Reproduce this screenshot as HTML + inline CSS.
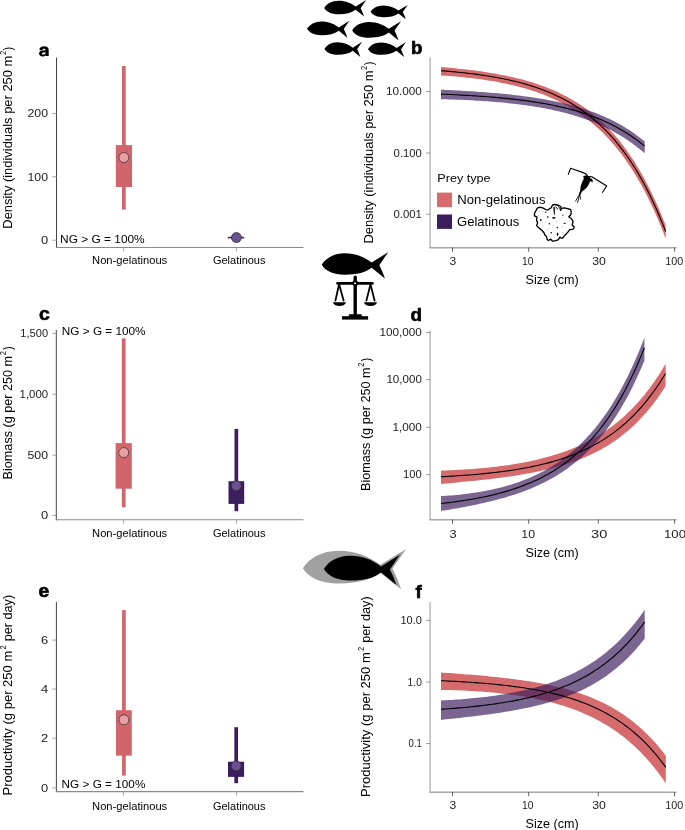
<!DOCTYPE html><html><head><meta charset="utf-8"><style>html,body{margin:0;padding:0;background:#fff;}svg{display:block;will-change:transform;}</style></head><body>
<svg width="685" height="830" viewBox="0 0 685 830" font-family='"Liberation Sans", sans-serif'>
<rect width="685" height="830" fill="#fff"/>
<path transform="translate(324.20,0.00) scale(0.8607,0.8601)" d="M0,9.2 C3,4.2 9,0.9 16.5,0.8 C24.5,0.7 31.5,3.6 36.6,7.6 L48.8,0 C46.6,3.2 44.2,6.6 42.3,9.5 C43.9,12.6 45.2,15.6 46.4,19.3 L36.6,11.4 C31.5,15.3 24.5,16.6 16.5,16.5 C9,16.4 3,14.2 0,9.2 Z" fill="#000"/>
<path transform="translate(370.60,4.90) scale(0.7602,0.7461)" d="M0,9.2 C3,4.2 9,0.9 16.5,0.8 C24.5,0.7 31.5,3.6 36.6,7.6 L48.8,0 C46.6,3.2 44.2,6.6 42.3,9.5 C43.9,12.6 45.2,15.6 46.4,19.3 L36.6,11.4 C31.5,15.3 24.5,16.6 16.5,16.5 C9,16.4 3,14.2 0,9.2 Z" fill="#000"/>
<path transform="translate(307.00,20.70) scale(0.8689,0.8808)" d="M0,9.2 C3,4.2 9,0.9 16.5,0.8 C24.5,0.7 31.5,3.6 36.6,7.6 L48.8,0 C46.6,3.2 44.2,6.6 42.3,9.5 C43.9,12.6 45.2,15.6 46.4,19.3 L36.6,11.4 C31.5,15.3 24.5,16.6 16.5,16.5 C9,16.4 3,14.2 0,9.2 Z" fill="#000"/>
<path transform="translate(352.20,21.20) scale(1.0000,1.0000)" d="M0,9.2 C3,4.2 9,0.9 16.5,0.8 C24.5,0.7 31.5,3.6 36.6,7.6 L48.8,0 C46.6,3.2 44.2,6.6 42.3,9.5 C43.9,12.6 45.2,15.6 46.4,19.3 L36.6,11.4 C31.5,15.3 24.5,16.6 16.5,16.5 C9,16.4 3,14.2 0,9.2 Z" fill="#000"/>
<path transform="translate(324.50,41.70) scale(0.7725,0.7876)" d="M0,9.2 C3,4.2 9,0.9 16.5,0.8 C24.5,0.7 31.5,3.6 36.6,7.6 L48.8,0 C46.6,3.2 44.2,6.6 42.3,9.5 C43.9,12.6 45.2,15.6 46.4,19.3 L36.6,11.4 C31.5,15.3 24.5,16.6 16.5,16.5 C9,16.4 3,14.2 0,9.2 Z" fill="#000"/>
<path transform="translate(368.00,42.00) scale(0.7787,0.7772)" d="M0,9.2 C3,4.2 9,0.9 16.5,0.8 C24.5,0.7 31.5,3.6 36.6,7.6 L48.8,0 C46.6,3.2 44.2,6.6 42.3,9.5 C43.9,12.6 45.2,15.6 46.4,19.3 L36.6,11.4 C31.5,15.3 24.5,16.6 16.5,16.5 C9,16.4 3,14.2 0,9.2 Z" fill="#000"/>
<path fill="#000" fill-rule="evenodd" d="M39.6,50.2 L39.6,48.6 C40.6,47 42.4,46.3 44.3,46.3 C47.1,46.3 48.7,47.7 48.7,50.3 L48.7,56.1 L45.8,56.1 L45.7,55.2 C45,56 43.8,56.45 42.5,56.45 C40.4,56.45 39.05,55.2 39.05,53.5 C39.05,51.5 40.8,50.8 42.9,50.6 L45.6,50.3 C45.6,49.3 45,48.7 44.1,48.7 C43.1,48.7 42.5,49.3 42.4,50.2 Z M45.6,52.3 L43.5,52.6 C42.6,52.7 42.1,53.1 42.1,53.7 C42.1,54.3 42.6,54.6 43.3,54.6 C44.7,54.6 45.6,53.7 45.6,52.5 Z"/>
<line x1="56.50" y1="57.60" x2="56.50" y2="248.00" stroke="#454545" stroke-width="1.0"/>
<line x1="56.00" y1="247.50" x2="303.50" y2="247.50" stroke="#8a8a8a" stroke-width="1.1"/>
<line x1="52.40" y1="113.50" x2="56.50" y2="113.50" stroke="#9a9a9a" stroke-width="0.9"/>
<text x="48.10" y="117.20" font-size="10.5" text-anchor="end" fill="#222222" font-weight="normal" textLength="20.60" lengthAdjust="spacingAndGlyphs">200</text>
<line x1="52.40" y1="176.80" x2="56.50" y2="176.80" stroke="#9a9a9a" stroke-width="0.9"/>
<text x="48.10" y="180.50" font-size="10.5" text-anchor="end" fill="#222222" font-weight="normal" textLength="20.60" lengthAdjust="spacingAndGlyphs">100</text>
<line x1="52.40" y1="240.20" x2="56.50" y2="240.20" stroke="#9a9a9a" stroke-width="0.9"/>
<text x="48.10" y="243.90" font-size="10.5" text-anchor="end" fill="#222222" font-weight="normal" textLength="7.20" lengthAdjust="spacingAndGlyphs">0</text>
<line x1="123.60" y1="247.50" x2="123.60" y2="251.50" stroke="#a0a0a0" stroke-width="0.9"/>
<line x1="236.40" y1="247.50" x2="236.40" y2="251.50" stroke="#a0a0a0" stroke-width="0.9"/>
<rect x="122.00" y="66.00" width="3.70" height="143.60" fill="#d0666b"/>
<rect x="115.80" y="145.10" width="16.20" height="41.90" fill="#d0666b"/>
<circle cx="123.85" cy="157.50" r="5.0" fill="#e9a0a3" stroke="#2b2b2b" stroke-width="0.7"/>
<rect x="227.80" y="236.80" width="16.40" height="1.60" fill="#3c1e5e"/>
<circle cx="236.4" cy="237.6" r="5" fill="#6c4f91" stroke="#2b2b2b" stroke-width="0.7"/>
<text x="60.10" y="242.80" font-size="11.7" text-anchor="start" fill="#000000" font-weight="normal" textLength="84.60" lengthAdjust="spacingAndGlyphs">NG &gt; G = 100%</text>
<text x="92.10" y="263.60" font-size="10.6" text-anchor="start" fill="#000000" font-weight="normal" textLength="75.10" lengthAdjust="spacingAndGlyphs">Non-gelatinous</text>
<text x="212.90" y="263.60" font-size="10.6" text-anchor="start" fill="#000000" font-weight="normal" textLength="52.60" lengthAdjust="spacingAndGlyphs">Gelatinous</text>
<g transform="translate(11.90,228.70) rotate(-90)">
<text x="0.00" y="0.00" font-size="12.2" fill="#000000" textLength="173.00" lengthAdjust="spacingAndGlyphs">Density (individuals per 250 m</text>
<text x="173.60" y="-5.60" font-size="9.0" fill="#000000" textLength="4.20" lengthAdjust="spacingAndGlyphs">2</text>
<text x="178.30" y="0.00" font-size="12.2" fill="#000000" textLength="3.80" lengthAdjust="spacingAndGlyphs">)</text>
</g>
<text x="410.90" y="53.80" font-size="18" font-weight="bold" fill="#000" stroke="#000" stroke-width="0.65" textLength="11.40" lengthAdjust="spacingAndGlyphs">b</text>
<line x1="430.10" y1="57.50" x2="430.10" y2="247.90" stroke="#a8a8a8" stroke-width="1.2"/>
<line x1="429.50" y1="247.70" x2="676.50" y2="247.70" stroke="#a8a8a8" stroke-width="1.4"/>
<line x1="426.20" y1="91.50" x2="430.10" y2="91.50" stroke="#8a8a8a" stroke-width="0.9"/>
<text x="421.90" y="95.20" font-size="10.5" text-anchor="end" fill="#222222" font-weight="normal" textLength="36.00" lengthAdjust="spacingAndGlyphs">10.000</text>
<line x1="426.20" y1="153.00" x2="430.10" y2="153.00" stroke="#8a8a8a" stroke-width="0.9"/>
<text x="421.90" y="156.70" font-size="10.5" text-anchor="end" fill="#222222" font-weight="normal" textLength="28.30" lengthAdjust="spacingAndGlyphs">0.100</text>
<line x1="426.20" y1="214.30" x2="430.10" y2="214.30" stroke="#8a8a8a" stroke-width="0.9"/>
<text x="421.90" y="218.00" font-size="10.5" text-anchor="end" fill="#222222" font-weight="normal" textLength="28.50" lengthAdjust="spacingAndGlyphs">0.001</text>
<line x1="452.50" y1="247.40" x2="452.50" y2="251.60" stroke="#505050" stroke-width="0.9"/>
<line x1="528.70" y1="247.40" x2="528.70" y2="251.60" stroke="#505050" stroke-width="0.9"/>
<line x1="598.30" y1="247.40" x2="598.30" y2="251.60" stroke="#505050" stroke-width="0.9"/>
<line x1="674.60" y1="247.40" x2="674.60" y2="251.60" stroke="#505050" stroke-width="0.9"/>
<text x="452.85" y="264.80" font-size="10.5" text-anchor="middle" fill="#222222" font-weight="normal" textLength="6.74" lengthAdjust="spacingAndGlyphs">3</text>
<text x="527.80" y="264.80" font-size="10.5" text-anchor="middle" fill="#222222" font-weight="normal" textLength="11.44" lengthAdjust="spacingAndGlyphs">10</text>
<text x="599.00" y="264.80" font-size="10.5" text-anchor="middle" fill="#222222" font-weight="normal" textLength="13.64" lengthAdjust="spacingAndGlyphs">30</text>
<text x="674.25" y="264.80" font-size="10.5" text-anchor="middle" fill="#222222" font-weight="normal" textLength="17.94" lengthAdjust="spacingAndGlyphs">100</text>
<text x="552.10" y="284.00" font-size="12.3" text-anchor="middle" fill="#000000" font-weight="normal" textLength="53.00" lengthAdjust="spacingAndGlyphs">Size (cm)</text>
<path d="M441.00,67.08 L443.84,67.31 L446.69,67.56 L449.53,67.81 L452.38,68.07 L455.22,68.35 L458.07,68.63 L460.91,68.93 L463.75,69.24 L466.60,69.56 L469.44,69.89 L472.29,70.24 L475.13,70.60 L477.98,70.98 L480.82,71.37 L483.66,71.79 L486.51,72.21 L489.35,72.66 L492.20,73.13 L495.04,73.62 L497.89,74.13 L500.73,74.66 L503.57,75.21 L506.42,75.79 L509.26,76.40 L512.11,77.03 L514.95,77.69 L517.80,78.38 L520.64,79.11 L523.48,79.86 L526.33,80.65 L529.17,81.48 L532.02,82.34 L534.86,83.24 L537.71,84.18 L540.55,85.17 L543.39,86.20 L546.24,87.28 L549.08,88.41 L551.93,89.59 L554.77,90.82 L557.62,92.12 L560.46,93.47 L563.31,94.88 L566.15,96.36 L568.99,97.90 L571.84,99.52 L574.68,101.21 L577.53,102.98 L580.37,104.84 L583.22,106.77 L586.06,108.80 L588.90,110.92 L591.75,113.14 L594.59,115.46 L597.44,117.89 L600.28,120.43 L603.13,123.09 L605.97,125.88 L608.81,128.79 L611.66,131.83 L614.50,135.02 L617.35,138.35 L620.19,141.84 L623.04,145.49 L625.88,149.31 L628.72,153.30 L631.57,157.48 L634.41,161.85 L637.26,166.43 L640.10,171.21 L642.95,176.22 L645.79,181.46 L648.63,186.94 L651.48,192.68 L654.32,198.67 L657.17,204.95 L660.01,211.52 L662.86,218.39 L665.70,225.57 L665.70,238.57 L662.86,231.22 L660.01,224.19 L657.17,217.47 L654.32,211.04 L651.48,204.89 L648.63,199.00 L645.79,193.37 L642.95,187.99 L640.10,182.84 L637.26,177.92 L634.41,173.21 L631.57,168.70 L628.72,164.39 L625.88,160.27 L623.04,156.32 L620.19,152.55 L617.35,148.94 L614.50,145.49 L611.66,142.19 L608.81,139.03 L605.97,136.01 L603.13,133.12 L600.28,130.36 L597.44,127.72 L594.59,125.19 L591.75,122.77 L588.90,120.46 L586.06,118.25 L583.22,116.13 L580.37,114.11 L577.53,112.18 L574.68,110.33 L571.84,108.56 L568.99,106.86 L566.15,105.25 L563.31,103.70 L560.46,102.22 L557.62,100.81 L554.77,99.45 L551.93,98.16 L549.08,96.92 L546.24,95.74 L543.39,94.61 L540.55,93.54 L537.71,92.50 L534.86,91.52 L532.02,90.58 L529.17,89.68 L526.33,88.82 L523.48,88.00 L520.64,87.21 L517.80,86.47 L514.95,85.75 L512.11,85.07 L509.26,84.42 L506.42,83.80 L503.57,83.21 L500.73,82.64 L497.89,82.10 L495.04,81.59 L492.20,81.10 L489.35,80.63 L486.51,80.19 L483.66,79.77 L480.82,79.36 L477.98,78.98 L475.13,78.62 L472.29,78.27 L469.44,77.94 L466.60,77.63 L463.75,77.34 L460.91,77.06 L458.07,76.79 L455.22,76.54 L452.38,76.30 L449.53,76.08 L446.69,75.87 L443.84,75.67 L441.00,75.48 Z" fill="#d66b6e"/>
<path d="M441.00,89.70 L443.58,89.82 L446.16,89.94 L448.74,90.06 L451.31,90.19 L453.89,90.32 L456.47,90.45 L459.05,90.59 L461.63,90.74 L464.21,90.89 L466.78,91.04 L469.36,91.20 L471.94,91.36 L474.52,91.53 L477.10,91.70 L479.68,91.88 L482.26,92.07 L484.83,92.26 L487.41,92.46 L489.99,92.67 L492.57,92.88 L495.15,93.10 L497.73,93.33 L500.31,93.57 L502.88,93.81 L505.46,94.07 L508.04,94.33 L510.62,94.61 L513.20,94.89 L515.78,95.18 L518.35,95.49 L520.93,95.81 L523.51,96.14 L526.09,96.48 L528.67,96.83 L531.25,97.20 L533.83,97.59 L536.40,97.98 L538.98,98.40 L541.56,98.82 L544.14,99.27 L546.72,99.73 L549.30,100.22 L551.87,100.72 L554.45,101.24 L557.03,101.78 L559.61,102.34 L562.19,102.93 L564.77,103.53 L567.35,104.17 L569.92,104.82 L572.50,105.51 L575.08,106.22 L577.66,106.96 L580.24,107.73 L582.82,108.53 L585.39,109.37 L587.97,110.24 L590.55,111.14 L593.13,112.08 L595.71,113.06 L598.29,114.08 L600.87,115.14 L603.44,116.24 L606.02,117.39 L608.60,118.58 L611.18,119.83 L613.76,121.12 L616.34,122.47 L618.92,123.87 L621.49,125.33 L624.07,126.85 L626.65,128.44 L629.23,130.08 L631.81,131.80 L634.39,133.59 L636.96,135.45 L639.54,137.38 L642.12,139.40 L644.70,141.50 L644.70,153.30 L642.12,151.09 L639.54,148.96 L636.96,146.92 L634.39,144.95 L631.81,143.06 L629.23,141.25 L626.65,139.50 L624.07,137.82 L621.49,136.20 L618.92,134.65 L616.34,133.16 L613.76,131.72 L611.18,130.34 L608.60,129.01 L606.02,127.73 L603.44,126.51 L600.87,125.33 L598.29,124.19 L595.71,123.10 L593.13,122.05 L590.55,121.04 L587.97,120.07 L585.39,119.14 L582.82,118.24 L580.24,117.38 L577.66,116.55 L575.08,115.75 L572.50,114.98 L569.92,114.25 L567.35,113.54 L564.77,112.86 L562.19,112.20 L559.61,111.57 L557.03,110.97 L554.45,110.39 L551.87,109.83 L549.30,109.30 L546.72,108.78 L544.14,108.29 L541.56,107.81 L538.98,107.35 L536.40,106.92 L533.83,106.50 L531.25,106.09 L528.67,105.71 L526.09,105.33 L523.51,104.98 L520.93,104.64 L518.35,104.31 L515.78,104.00 L513.20,103.70 L510.62,103.41 L508.04,103.13 L505.46,102.87 L502.88,102.62 L500.31,102.37 L497.73,102.14 L495.15,101.92 L492.57,101.71 L489.99,101.51 L487.41,101.32 L484.83,101.14 L482.26,100.97 L479.68,100.80 L477.10,100.65 L474.52,100.50 L471.94,100.36 L469.36,100.23 L466.78,100.10 L464.21,99.98 L461.63,99.87 L459.05,99.76 L456.47,99.67 L453.89,99.57 L451.31,99.49 L448.74,99.41 L446.16,99.33 L443.58,99.26 L441.00,99.20 Z" fill="rgba(59,30,91,0.68)"/>
<path d="M441.00,70.68 L443.84,70.90 L446.69,71.14 L449.53,71.38 L452.38,71.64 L455.22,71.90 L458.07,72.18 L460.91,72.48 L463.75,72.78 L466.60,73.10 L469.44,73.43 L472.29,73.78 L475.13,74.14 L477.98,74.52 L480.82,74.92 L483.66,75.34 L486.51,75.77 L489.35,76.23 L492.20,76.70 L495.04,77.20 L497.89,77.72 L500.73,78.26 L503.57,78.83 L506.42,79.42 L509.26,80.04 L512.11,80.69 L514.95,81.36 L517.80,82.07 L520.64,82.81 L523.48,83.59 L526.33,84.40 L529.17,85.25 L532.02,86.13 L534.86,87.06 L537.71,88.03 L540.55,89.04 L543.39,90.10 L546.24,91.21 L549.08,92.36 L551.93,93.57 L554.77,94.84 L557.62,96.16 L560.46,97.55 L563.31,99.00 L566.15,100.51 L568.99,102.09 L571.84,103.75 L574.68,105.48 L577.53,107.29 L580.37,109.19 L583.22,111.17 L586.06,113.24 L588.90,115.40 L591.75,117.67 L594.59,120.04 L597.44,122.51 L600.28,125.10 L603.13,127.81 L605.97,130.65 L608.81,133.61 L611.66,136.71 L614.50,139.95 L617.35,143.34 L620.19,146.88 L623.04,150.59 L625.88,154.47 L628.72,158.52 L631.57,162.76 L634.41,167.20 L637.26,171.83 L640.10,176.69 L642.95,181.76 L645.79,187.06 L648.63,192.61 L651.48,198.42 L654.32,204.48 L657.17,210.83 L660.01,217.47 L662.86,224.41 L665.70,231.67" fill="none" stroke="#000" stroke-width="1.1"/>
<path d="M441.00,94.10 L443.58,94.21 L446.16,94.32 L448.74,94.43 L451.31,94.55 L453.89,94.68 L456.47,94.81 L459.05,94.94 L461.63,95.08 L464.21,95.22 L466.78,95.37 L469.36,95.52 L471.94,95.68 L474.52,95.84 L477.10,96.01 L479.68,96.19 L482.26,96.37 L484.83,96.56 L487.41,96.75 L489.99,96.96 L492.57,97.17 L495.15,97.39 L497.73,97.61 L500.31,97.85 L502.88,98.09 L505.46,98.35 L508.04,98.61 L510.62,98.88 L513.20,99.17 L515.78,99.46 L518.35,99.77 L520.93,100.09 L523.51,100.42 L526.09,100.76 L528.67,101.12 L531.25,101.49 L533.83,101.87 L536.40,102.27 L538.98,102.69 L541.56,103.12 L544.14,103.57 L546.72,104.04 L549.30,104.53 L551.87,105.03 L554.45,105.56 L557.03,106.10 L559.61,106.67 L562.19,107.26 L564.77,107.88 L567.35,108.52 L569.92,109.18 L572.50,109.87 L575.08,110.59 L577.66,111.34 L580.24,112.12 L582.82,112.93 L585.39,113.77 L587.97,114.65 L590.55,115.56 L593.13,116.51 L595.71,117.50 L598.29,118.53 L600.87,119.60 L603.44,120.72 L606.02,121.88 L608.60,123.08 L611.18,124.34 L613.76,125.65 L616.34,127.01 L618.92,128.42 L621.49,129.90 L624.07,131.43 L626.65,133.03 L629.23,134.69 L631.81,136.42 L634.39,138.22 L636.96,140.10 L639.54,142.05 L642.12,144.08 L644.70,146.20" fill="none" stroke="#000" stroke-width="1.1"/>
<g transform="translate(372.80,243.50) rotate(-90)">
<text x="0.00" y="0.00" font-size="12.2" fill="#000000" textLength="173.00" lengthAdjust="spacingAndGlyphs">Density (individuals per 250 m</text>
<text x="173.60" y="-5.60" font-size="9.0" fill="#000000" textLength="4.20" lengthAdjust="spacingAndGlyphs">2</text>
<text x="178.30" y="0.00" font-size="12.2" fill="#000000" textLength="3.80" lengthAdjust="spacingAndGlyphs">)</text>
</g>
<g stroke="#000" fill="none" stroke-linecap="round" stroke-linejoin="round">
<path d="M568.3,174.4 L570.6,168.3 L582.5,172.4 C584.5,173 586.4,173.6 587.4,175.6" stroke-width="1.15"/>
<path d="M588.8,176.7 C589.8,176.5 590.8,176.5 591.8,176.8 L606.7,186 L602.5,192.3" stroke-width="1.15"/>
<path d="M579.8,193.8 L575.6,201.1 M579.8,193.8 L577.6,202.5 M579.8,193.8 L580.5,199.2" stroke-width="0.85"/>
</g>
<path fill="#000" d="M583.2,176.1 C584.6,175.4 586.3,175.3 587.6,175.8 C588.8,176.2 589.8,176.9 590.2,178.2 C591.4,178.6 592.6,179.3 592.8,180.6 C592.8,181.6 592.4,182.4 592.1,182.5 C591.6,181.6 590.9,181.1 590,181.2 C589.3,184 587.6,186.8 585.5,188.7 C584.2,189.9 582.9,190.8 582.1,191.5 L580.4,194.6 L578.9,194.1 L580.3,190 C580.3,187.5 581,184.2 582.6,181.2 C583.2,180 583.7,178.9 583.9,178 C583.5,177.5 583.2,176.8 583.2,176.1 Z"/>
<path d="M535.90,210.80 C536.42,209.87 536.97,208.58 537.60,208.00 C538.23,207.42 538.88,207.33 539.70,207.30 C540.52,207.27 541.62,207.52 542.50,207.80 C543.38,208.08 544.18,208.62 545.00,209.00 C545.82,209.38 546.65,210.15 547.40,210.10 C548.15,210.05 548.85,209.12 549.50,208.70 C550.15,208.28 550.83,208.13 551.30,207.60 C551.77,207.07 551.78,206.02 552.30,205.50 C552.82,204.98 553.68,204.62 554.40,204.50 C555.12,204.38 555.83,204.63 556.60,204.80 C557.37,204.97 558.30,205.15 559.00,205.50 C559.70,205.85 560.45,206.32 560.80,206.90 C561.15,207.48 561.17,208.42 561.10,209.00 C561.03,209.58 560.22,210.52 560.40,210.40 C560.58,210.28 561.55,208.70 562.20,208.30 C562.85,207.90 563.55,208.00 564.30,208.00 C565.05,208.00 565.95,208.13 566.70,208.30 C567.45,208.47 568.15,208.77 568.80,209.00 C569.45,209.23 570.22,209.23 570.60,209.70 C570.98,210.17 571.05,211.03 571.10,211.80 C571.15,212.57 571.10,213.65 570.90,214.30 C570.70,214.95 570.25,215.30 569.90,215.70 C569.55,216.10 568.68,216.30 568.80,216.70 C568.92,217.10 570.02,217.57 570.60,218.10 C571.18,218.63 571.90,219.25 572.30,219.90 C572.70,220.55 573.02,221.17 573.00,222.00 C572.98,222.83 572.03,224.12 572.20,224.90 C572.37,225.68 573.80,226.02 574.00,226.70 C574.20,227.38 574.08,228.52 573.40,229.00 C572.72,229.48 570.78,229.12 569.90,229.60 C569.02,230.08 568.68,231.22 568.10,231.90 C567.52,232.58 566.98,233.12 566.40,233.70 C565.82,234.28 565.10,234.82 564.60,235.40 C564.10,235.98 563.88,236.70 563.40,237.20 C562.92,237.70 562.28,238.40 561.70,238.40 C561.12,238.40 560.48,236.97 559.90,237.20 C559.32,237.43 558.97,239.22 558.20,239.80 C557.43,240.38 556.27,240.50 555.30,240.70 C554.33,240.90 553.18,241.25 552.40,241.00 C551.62,240.75 551.20,239.30 550.60,239.20 C550.00,239.10 549.38,240.40 548.80,240.40 C548.22,240.40 547.48,239.83 547.10,239.20 C546.72,238.57 546.88,237.33 546.50,236.60 C546.12,235.87 545.18,235.38 544.80,234.80 C544.42,234.22 544.70,233.87 544.20,233.10 C543.70,232.33 542.78,231.17 541.80,230.20 C540.82,229.23 539.17,228.08 538.30,227.30 C537.43,226.52 536.72,226.22 536.60,225.50 C536.48,224.78 537.60,223.88 537.60,223.00 C537.60,222.12 536.72,221.18 536.60,220.20 C536.48,219.22 537.20,217.80 536.90,217.10 C536.60,216.40 535.20,216.58 534.80,216.00 C534.40,215.42 534.32,214.47 534.50,213.60 C534.68,212.73 535.38,211.73 535.90,210.80 Z" fill="#fff" stroke="#000" stroke-width="1.35" stroke-linejoin="round"/>
<path d="M552,205.6 C554,203.6 558.4,204.2 560.4,209.8 M555.5,206.6 C556.5,207.2 557.2,208.2 557.6,209.4" fill="none" stroke="#000" stroke-width="1.0"/>
<path d="M553.5,207.2 L554.8,207.2 L554.6,214.3 L554.1,214.6 Z" fill="#000" stroke="#000" stroke-width="0.4"/>
<circle cx="545.7" cy="212.2" r="0.7" fill="#000"/>
<circle cx="547.8" cy="217.1" r="0.8" fill="#000"/>
<circle cx="540.8" cy="219.9" r="0.9" fill="#000"/>
<circle cx="549.4" cy="223.8" r="0.75" fill="#000"/>
<circle cx="562.9" cy="215.1" r="0.6" fill="#000"/>
<circle cx="557.3" cy="227.5" r="0.7" fill="#000"/>
<circle cx="551.2" cy="232.8" r="0.8" fill="#000"/>
<ellipse cx="553.8" cy="217.8" rx="1.7" ry="0.85" fill="#000"/>
<ellipse cx="564.6" cy="223.3" rx="1.3" ry="0.55" fill="#000"/>
<ellipse cx="557.6" cy="234.3" rx="0.8" ry="1.8" fill="#000"/>
<circle cx="539.4" cy="211.5" r="0.5" fill="#aaa"/>
<circle cx="542.3" cy="211.5" r="0.5" fill="#aaa"/>
<circle cx="538.5" cy="215.5" r="0.5" fill="#aaa"/>
<circle cx="543" cy="226" r="0.5" fill="#aaa"/>
<circle cx="547.1" cy="229.3" r="0.5" fill="#aaa"/>
<circle cx="553.5" cy="225.2" r="0.5" fill="#aaa"/>
<circle cx="562.6" cy="226.4" r="0.5" fill="#aaa"/>
<circle cx="562.6" cy="232.5" r="0.5" fill="#aaa"/>
<circle cx="554.7" cy="237.8" r="0.5" fill="#aaa"/>
<circle cx="545" cy="222" r="0.5" fill="#aaa"/>
<circle cx="560" cy="220" r="0.5" fill="#aaa"/>
<circle cx="566.5" cy="212.8" r="0.5" fill="#aaa"/>
<circle cx="548.5" cy="234" r="0.5" fill="#aaa"/>
<circle cx="542" cy="222.5" r="0.5" fill="#aaa"/>
<circle cx="568" cy="224" r="0.5" fill="#aaa"/>
<circle cx="556.5" cy="221.5" r="0.5" fill="#aaa"/>
<text x="437.30" y="181.60" font-size="11.5" text-anchor="start" fill="#000000" font-weight="normal" textLength="53.30" lengthAdjust="spacingAndGlyphs">Prey type</text>
<rect x="437.00" y="192.60" width="15.00" height="14.50" fill="#d86a6d"/>
<rect x="437.00" y="214.50" width="15.00" height="14.40" fill="#3b1e5b"/>
<text x="457.20" y="204.00" font-size="12.8" text-anchor="start" fill="#000000" font-weight="normal" textLength="88.30" lengthAdjust="spacingAndGlyphs">Non-gelatinous</text>
<text x="457.00" y="225.80" font-size="12.8" text-anchor="start" fill="#000000" font-weight="normal" textLength="62.30" lengthAdjust="spacingAndGlyphs">Gelatinous</text>
<text x="38.90" y="319.90" font-size="18" font-weight="bold" fill="#000" stroke="#000" stroke-width="0.65" textLength="10.80" lengthAdjust="spacingAndGlyphs">c</text>
<line x1="56.30" y1="329.90" x2="56.30" y2="520.30" stroke="#454545" stroke-width="1.0"/>
<line x1="55.80" y1="519.80" x2="303.50" y2="519.80" stroke="#8a8a8a" stroke-width="1.1"/>
<line x1="52.40" y1="333.30" x2="56.30" y2="333.30" stroke="#9a9a9a" stroke-width="0.9"/>
<text x="48.10" y="337.00" font-size="10.5" text-anchor="end" fill="#222222" font-weight="normal" textLength="27.80" lengthAdjust="spacingAndGlyphs">1,500</text>
<line x1="52.40" y1="394.20" x2="56.30" y2="394.20" stroke="#9a9a9a" stroke-width="0.9"/>
<text x="48.10" y="397.90" font-size="10.5" text-anchor="end" fill="#222222" font-weight="normal" textLength="28.50" lengthAdjust="spacingAndGlyphs">1,000</text>
<line x1="52.40" y1="455.20" x2="56.30" y2="455.20" stroke="#9a9a9a" stroke-width="0.9"/>
<text x="48.10" y="458.90" font-size="10.5" text-anchor="end" fill="#222222" font-weight="normal" textLength="20.60" lengthAdjust="spacingAndGlyphs">500</text>
<line x1="52.40" y1="515.40" x2="56.30" y2="515.40" stroke="#9a9a9a" stroke-width="0.9"/>
<text x="48.10" y="519.10" font-size="10.5" text-anchor="end" fill="#222222" font-weight="normal" textLength="7.20" lengthAdjust="spacingAndGlyphs">0</text>
<line x1="123.60" y1="519.80" x2="123.60" y2="523.80" stroke="#a0a0a0" stroke-width="0.9"/>
<line x1="236.40" y1="519.80" x2="236.40" y2="523.80" stroke="#a0a0a0" stroke-width="0.9"/>
<rect x="121.85" y="338.40" width="3.70" height="168.90" fill="#d0666b"/>
<rect x="115.60" y="443.10" width="16.20" height="45.60" fill="#d0666b"/>
<circle cx="123.70" cy="452.60" r="5.0" fill="#e9a0a3" stroke="#2b2b2b" stroke-width="0.7"/>
<rect x="234.50" y="428.90" width="3.70" height="82.30" fill="#3c1e5e"/>
<rect x="228.50" y="481.20" width="15.70" height="22.70" fill="#3c1e5e"/>
<circle cx="236.35" cy="485.80" r="5.0" fill="#6c4f91" stroke="#2b2b2b" stroke-width="0.7"/>
<text x="61.80" y="335.00" font-size="11.7" text-anchor="start" fill="#000000" font-weight="normal" textLength="83.80" lengthAdjust="spacingAndGlyphs">NG &gt; G = 100%</text>
<text x="92.10" y="536.60" font-size="10.6" text-anchor="start" fill="#000000" font-weight="normal" textLength="75.10" lengthAdjust="spacingAndGlyphs">Non-gelatinous</text>
<text x="212.90" y="536.60" font-size="10.6" text-anchor="start" fill="#000000" font-weight="normal" textLength="52.60" lengthAdjust="spacingAndGlyphs">Gelatinous</text>
<g transform="translate(12.00,479.40) rotate(-90)">
<text x="0.00" y="0.00" font-size="12.2" fill="#000000" textLength="123.50" lengthAdjust="spacingAndGlyphs">Biomass (g per 250 m</text>
<text x="124.20" y="-5.60" font-size="9.0" fill="#000000" textLength="4.20" lengthAdjust="spacingAndGlyphs">2</text>
<text x="129.50" y="0.00" font-size="12.2" fill="#000000" textLength="3.60" lengthAdjust="spacingAndGlyphs">)</text>
</g>
<path transform="translate(321.80,252.20) scale(1.3607,1.3627)" d="M0,9.2 C3,4.2 9,0.9 16.5,0.8 C24.5,0.7 31.5,3.6 36.6,7.6 L48.8,0 C46.6,3.2 44.2,6.6 42.3,9.5 C43.9,12.6 45.2,15.6 46.4,19.3 L36.6,11.4 C31.5,15.3 24.5,16.6 16.5,16.5 C9,16.4 3,14.2 0,9.2 Z" fill="#000"/>
<g fill="#000">
<rect x="353.5" y="275.5" width="3.4" height="40" rx="1.7"/>
<rect x="352.4" y="280.8" width="5.6" height="4.8" rx="1.5"/>
<rect x="336.2" y="281.9" width="37.6" height="2.9" rx="1.45"/>
<path d="M332.9,302.2 L346.1,302.2 C345.2,304.9 342.5,306 339.5,306 C336.5,306 333.8,304.9 332.9,302.2 Z"/>
<path d="M363.9,302.2 L377.1,302.2 C376.2,304.9 373.5,306 370.5,306 C367.5,306 364.8,304.9 363.9,302.2 Z"/>
<rect x="342" y="316.2" width="26.1" height="3.4"/>
<rect x="348.8" y="314.2" width="13" height="3" rx="0.8"/>
</g>
<g stroke="#000" stroke-width="1.8" fill="none" stroke-linecap="round">
<path d="M335.4,300.6 L339.1,284.2 L343.6,300.6"/>
<path d="M366.4,300.6 L370.5,284.2 L374.6,300.6"/>
</g>
<circle cx="355.1" cy="283.3" r="0.95" fill="#fff"/>
<text x="410.50" y="320.80" font-size="18" font-weight="bold" fill="#000" stroke="#000" stroke-width="0.65" textLength="11.50" lengthAdjust="spacingAndGlyphs">d</text>
<line x1="430.10" y1="330.60" x2="430.10" y2="519.90" stroke="#a8a8a8" stroke-width="1.2"/>
<line x1="429.50" y1="519.70" x2="676.50" y2="519.70" stroke="#a8a8a8" stroke-width="1.4"/>
<line x1="426.20" y1="332.50" x2="430.10" y2="332.50" stroke="#8a8a8a" stroke-width="0.9"/>
<text x="421.90" y="336.20" font-size="10.5" text-anchor="end" fill="#222222" font-weight="normal" textLength="42.40" lengthAdjust="spacingAndGlyphs">100,000</text>
<line x1="426.20" y1="379.60" x2="430.10" y2="379.60" stroke="#8a8a8a" stroke-width="0.9"/>
<text x="421.90" y="383.30" font-size="10.5" text-anchor="end" fill="#222222" font-weight="normal" textLength="35.50" lengthAdjust="spacingAndGlyphs">10,000</text>
<line x1="426.20" y1="427.30" x2="430.10" y2="427.30" stroke="#8a8a8a" stroke-width="0.9"/>
<text x="421.90" y="431.00" font-size="10.5" text-anchor="end" fill="#222222" font-weight="normal" textLength="29.40" lengthAdjust="spacingAndGlyphs">1,000</text>
<line x1="426.20" y1="474.70" x2="430.10" y2="474.70" stroke="#8a8a8a" stroke-width="0.9"/>
<text x="421.90" y="478.40" font-size="10.5" text-anchor="end" fill="#222222" font-weight="normal" textLength="18.80" lengthAdjust="spacingAndGlyphs">100</text>
<line x1="452.50" y1="519.40" x2="452.50" y2="523.60" stroke="#505050" stroke-width="0.9"/>
<line x1="528.70" y1="519.40" x2="528.70" y2="523.60" stroke="#505050" stroke-width="0.9"/>
<line x1="598.30" y1="519.40" x2="598.30" y2="523.60" stroke="#505050" stroke-width="0.9"/>
<line x1="674.60" y1="519.40" x2="674.60" y2="523.60" stroke="#505050" stroke-width="0.9"/>
<text x="453.00" y="537.80" font-size="11.6" text-anchor="middle" fill="#222222" font-weight="normal" textLength="7.13" lengthAdjust="spacingAndGlyphs">3</text>
<text x="528.20" y="537.80" font-size="11.6" text-anchor="middle" fill="#222222" font-weight="normal" textLength="13.73" lengthAdjust="spacingAndGlyphs">10</text>
<text x="599.25" y="537.80" font-size="11.6" text-anchor="middle" fill="#222222" font-weight="normal" textLength="16.23" lengthAdjust="spacingAndGlyphs">30</text>
<text x="675.00" y="537.80" font-size="11.6" text-anchor="middle" fill="#222222" font-weight="normal" textLength="21.93" lengthAdjust="spacingAndGlyphs">100</text>
<text x="552.10" y="556.90" font-size="12.3" text-anchor="middle" fill="#000000" font-weight="normal" textLength="53.00" lengthAdjust="spacingAndGlyphs">Size (cm)</text>
<path d="M441.00,470.65 L443.84,470.55 L446.69,470.43 L449.53,470.30 L452.37,470.16 L455.22,470.02 L458.06,469.86 L460.90,469.70 L463.74,469.52 L466.59,469.33 L469.43,469.13 L472.27,468.92 L475.12,468.70 L477.96,468.46 L480.80,468.22 L483.65,467.95 L486.49,467.68 L489.33,467.39 L492.17,467.08 L495.02,466.76 L497.86,466.42 L500.70,466.06 L503.55,465.69 L506.39,465.29 L509.23,464.88 L512.08,464.45 L514.92,463.99 L517.76,463.52 L520.61,463.02 L523.45,462.50 L526.29,461.95 L529.13,461.38 L531.98,460.78 L534.82,460.15 L537.66,459.49 L540.51,458.80 L543.35,458.09 L546.19,457.33 L549.04,456.55 L551.88,455.72 L554.72,454.86 L557.56,453.97 L560.41,453.03 L563.25,452.04 L566.09,451.02 L568.94,449.94 L571.78,448.82 L574.62,447.65 L577.47,446.42 L580.31,445.14 L583.15,443.81 L585.99,442.41 L588.84,440.95 L591.68,439.42 L594.52,437.83 L597.37,436.16 L600.21,434.42 L603.05,432.60 L605.90,430.70 L608.74,428.72 L611.58,426.65 L614.43,424.48 L617.27,422.22 L620.11,419.85 L622.95,417.38 L625.80,414.80 L628.64,412.11 L631.48,409.29 L634.33,406.35 L637.17,403.27 L640.01,400.06 L642.86,396.70 L645.70,393.20 L648.54,389.53 L651.38,385.70 L654.23,381.70 L657.07,377.52 L659.91,373.15 L662.76,368.59 L665.60,363.82 L665.60,386.22 L662.76,390.61 L659.91,394.81 L657.07,398.82 L654.23,402.64 L651.38,406.29 L648.54,409.78 L645.70,413.11 L642.86,416.29 L640.01,419.32 L637.17,422.22 L634.33,424.99 L631.48,427.63 L628.64,430.15 L625.80,432.56 L622.95,434.86 L620.11,437.05 L617.27,439.15 L614.43,441.15 L611.58,443.06 L608.74,444.88 L605.90,446.63 L603.05,448.29 L600.21,449.88 L597.37,451.40 L594.52,452.85 L591.68,454.23 L588.84,455.56 L585.99,456.82 L583.15,458.03 L580.31,459.19 L577.47,460.29 L574.62,461.35 L571.78,462.36 L568.94,463.33 L566.09,464.25 L563.25,465.14 L560.41,465.98 L557.56,466.80 L554.72,467.57 L551.88,468.32 L549.04,469.03 L546.19,469.72 L543.35,470.37 L540.51,471.00 L537.66,471.61 L534.82,472.19 L531.98,472.75 L529.13,473.29 L526.29,473.81 L523.45,474.30 L520.61,474.78 L517.76,475.25 L514.92,475.70 L512.08,476.13 L509.23,476.54 L506.39,476.95 L503.55,477.34 L500.70,477.72 L497.86,478.09 L495.02,478.45 L492.17,478.79 L489.33,479.13 L486.49,479.46 L483.65,479.78 L480.80,480.10 L477.96,480.40 L475.12,480.70 L472.27,481.00 L469.43,481.29 L466.59,481.57 L463.74,481.85 L460.90,482.12 L458.06,482.39 L455.22,482.66 L452.37,482.92 L449.53,483.19 L446.69,483.44 L443.84,483.70 L441.00,483.95 Z" fill="#d66b6e"/>
<path d="M441.00,496.09 L443.57,495.93 L446.15,495.76 L448.72,495.58 L451.30,495.38 L453.87,495.16 L456.45,494.92 L459.02,494.67 L461.60,494.40 L464.17,494.11 L466.75,493.79 L469.32,493.46 L471.90,493.11 L474.47,492.74 L477.05,492.34 L479.62,491.92 L482.19,491.48 L484.77,491.01 L487.34,490.52 L489.92,490.00 L492.49,489.45 L495.07,488.87 L497.64,488.27 L500.22,487.63 L502.79,486.96 L505.37,486.26 L507.94,485.53 L510.52,484.76 L513.09,483.95 L515.67,483.11 L518.24,482.22 L520.82,481.30 L523.39,480.34 L525.96,479.33 L528.54,478.27 L531.11,477.17 L533.69,476.02 L536.26,474.82 L538.84,473.57 L541.41,472.26 L543.99,470.90 L546.56,469.47 L549.14,467.99 L551.71,466.44 L554.29,464.83 L556.86,463.15 L559.44,461.40 L562.01,459.57 L564.58,457.67 L567.16,455.69 L569.73,453.62 L572.31,451.47 L574.88,449.23 L577.46,446.90 L580.03,444.47 L582.61,441.93 L585.18,439.30 L587.76,436.56 L590.33,433.70 L592.91,430.73 L595.48,427.63 L598.06,424.41 L600.63,421.05 L603.21,417.56 L605.78,413.92 L608.35,410.14 L610.93,406.20 L613.50,402.10 L616.08,397.83 L618.65,393.39 L621.23,388.77 L623.80,383.96 L626.38,378.95 L628.95,373.74 L631.53,368.31 L634.10,362.67 L636.68,356.79 L639.25,350.68 L641.83,344.32 L644.40,337.69 L644.40,360.49 L641.83,366.65 L639.25,372.56 L636.68,378.23 L634.10,383.68 L631.53,388.89 L628.95,393.90 L626.38,398.71 L623.80,403.32 L621.23,407.74 L618.65,411.98 L616.08,416.06 L613.50,419.96 L610.93,423.71 L608.35,427.31 L605.78,430.76 L603.21,434.07 L600.63,437.25 L598.06,440.30 L595.48,443.23 L592.91,446.04 L590.33,448.74 L587.76,451.33 L585.18,453.81 L582.61,456.20 L580.03,458.49 L577.46,460.69 L574.88,462.81 L572.31,464.83 L569.73,466.78 L567.16,468.66 L564.58,470.45 L562.01,472.18 L559.44,473.84 L556.86,475.44 L554.29,476.97 L551.71,478.45 L549.14,479.87 L546.56,481.23 L543.99,482.55 L541.41,483.81 L538.84,485.03 L536.26,486.20 L533.69,487.33 L531.11,488.42 L528.54,489.46 L525.96,490.47 L523.39,491.45 L520.82,492.39 L518.24,493.29 L515.67,494.17 L513.09,495.02 L510.52,495.83 L507.94,496.62 L505.37,497.39 L502.79,498.13 L500.22,498.84 L497.64,499.54 L495.07,500.21 L492.49,500.86 L489.92,501.50 L487.34,502.11 L484.77,502.71 L482.19,503.29 L479.62,503.86 L477.05,504.41 L474.47,504.95 L471.90,505.48 L469.32,505.99 L466.75,506.49 L464.17,506.98 L461.60,507.46 L459.02,507.93 L456.45,508.39 L453.87,508.84 L451.30,509.28 L448.72,509.72 L446.15,510.15 L443.57,510.57 L441.00,510.99 Z" fill="rgba(59,30,91,0.68)"/>
<path d="M441.00,476.75 L443.84,476.60 L446.69,476.45 L449.53,476.28 L452.37,476.11 L455.22,475.94 L458.06,475.75 L460.90,475.56 L463.74,475.36 L466.59,475.14 L469.43,474.93 L472.27,474.70 L475.12,474.46 L477.96,474.21 L480.80,473.94 L483.65,473.67 L486.49,473.39 L489.33,473.09 L492.17,472.78 L495.02,472.46 L497.86,472.12 L500.70,471.76 L503.55,471.39 L506.39,471.01 L509.23,470.60 L512.08,470.18 L514.92,469.74 L517.76,469.28 L520.61,468.80 L523.45,468.30 L526.29,467.78 L529.13,467.23 L531.98,466.66 L534.82,466.06 L537.66,465.43 L540.51,464.78 L543.35,464.09 L546.19,463.38 L549.04,462.63 L551.88,461.85 L554.72,461.04 L557.56,460.18 L560.41,459.29 L563.25,458.36 L566.09,457.39 L568.94,456.37 L571.78,455.30 L574.62,454.19 L577.47,453.03 L580.31,451.81 L583.15,450.54 L585.99,449.21 L588.84,447.82 L591.68,446.37 L594.52,444.85 L597.37,443.26 L600.21,441.60 L603.05,439.86 L605.90,438.05 L608.74,436.15 L611.58,434.16 L614.43,432.09 L617.27,429.92 L620.11,427.65 L622.95,425.27 L625.80,422.79 L628.64,420.20 L631.48,417.48 L634.33,414.64 L637.17,411.68 L640.01,408.57 L642.86,405.33 L645.70,401.94 L648.54,398.39 L651.38,394.68 L654.23,390.80 L657.07,386.74 L659.91,382.50 L662.76,378.06 L665.60,373.42" fill="none" stroke="#000" stroke-width="1.1"/>
<path d="M441.00,503.49 L443.57,503.20 L446.15,502.90 L448.72,502.59 L451.30,502.27 L453.87,501.94 L456.45,501.59 L459.02,501.23 L461.60,500.86 L464.17,500.47 L466.75,500.06 L469.32,499.64 L471.90,499.21 L474.47,498.75 L477.05,498.28 L479.62,497.79 L482.19,497.27 L484.77,496.74 L487.34,496.19 L489.92,495.61 L492.49,495.01 L495.07,494.39 L497.64,493.74 L500.22,493.06 L502.79,492.36 L505.37,491.63 L507.94,490.87 L510.52,490.08 L513.09,489.25 L515.67,488.39 L518.24,487.50 L520.82,486.57 L523.39,485.61 L525.96,484.60 L528.54,483.56 L531.11,482.47 L533.69,481.33 L536.26,480.15 L538.84,478.92 L541.41,477.64 L543.99,476.31 L546.56,474.93 L549.14,473.49 L551.71,471.98 L554.29,470.42 L556.86,468.79 L559.44,467.10 L562.01,465.34 L564.58,463.50 L567.16,461.59 L569.73,459.60 L572.31,457.53 L574.88,455.37 L577.46,453.13 L580.03,450.79 L582.61,448.35 L585.18,445.82 L587.76,443.18 L590.33,440.43 L592.91,437.57 L595.48,434.59 L598.06,431.49 L600.63,428.26 L603.21,424.90 L605.78,421.40 L608.35,417.75 L610.93,413.96 L613.50,410.00 L616.08,405.89 L618.65,401.60 L621.23,397.14 L623.80,392.49 L626.38,387.65 L628.95,382.61 L631.53,377.37 L634.10,371.90 L636.68,366.21 L639.25,360.29 L641.83,354.12 L644.40,347.69" fill="none" stroke="#000" stroke-width="1.1"/>
<g transform="translate(369.70,491.00) rotate(-90)">
<text x="0.00" y="0.00" font-size="12.2" fill="#000000" textLength="123.50" lengthAdjust="spacingAndGlyphs">Biomass (g per 250 m</text>
<text x="124.20" y="-5.60" font-size="9.0" fill="#000000" textLength="4.20" lengthAdjust="spacingAndGlyphs">2</text>
<text x="129.50" y="0.00" font-size="12.2" fill="#000000" textLength="3.60" lengthAdjust="spacingAndGlyphs">)</text>
</g>
<path transform="translate(302.90,549.00) scale(2.1168,2.0881)" d="M0,9.2 C3,4.2 9,0.9 16.5,0.8 C24.5,0.7 31.5,3.6 36.6,7.6 L48.8,0 C46.6,3.2 44.2,6.6 42.3,9.5 C43.9,12.6 45.2,15.6 46.4,19.3 L36.6,11.4 C31.5,15.3 24.5,16.6 16.5,16.5 C9,16.4 3,14.2 0,9.2 Z" fill="#a0a0a0"/>
<path transform="translate(323.90,554.60) scale(1.5615,1.5751)" d="M0,9.2 C3,4.2 9,0.9 16.5,0.8 C24.5,0.7 31.5,3.6 36.6,7.6 L48.8,0 C46.6,3.2 44.2,6.6 42.3,9.5 C43.9,12.6 45.2,15.6 46.4,19.3 L36.6,11.4 C31.5,15.3 24.5,16.6 16.5,16.5 C9,16.4 3,14.2 0,9.2 Z" fill="#000"/>
<text x="38.60" y="597.40" font-size="18" font-weight="bold" fill="#000" stroke="#000" stroke-width="0.65" textLength="10.70" lengthAdjust="spacingAndGlyphs">e</text>
<line x1="56.40" y1="601.90" x2="56.40" y2="792.10" stroke="#454545" stroke-width="1.0"/>
<line x1="55.90" y1="791.60" x2="303.50" y2="791.60" stroke="#8a8a8a" stroke-width="1.1"/>
<line x1="52.40" y1="640.10" x2="56.40" y2="640.10" stroke="#9a9a9a" stroke-width="0.9"/>
<text x="48.10" y="643.80" font-size="10.5" text-anchor="end" fill="#222222" font-weight="normal" textLength="7.20" lengthAdjust="spacingAndGlyphs">6</text>
<line x1="52.40" y1="689.10" x2="56.40" y2="689.10" stroke="#9a9a9a" stroke-width="0.9"/>
<text x="48.10" y="692.80" font-size="10.5" text-anchor="end" fill="#222222" font-weight="normal" textLength="7.20" lengthAdjust="spacingAndGlyphs">4</text>
<line x1="52.40" y1="738.20" x2="56.40" y2="738.20" stroke="#9a9a9a" stroke-width="0.9"/>
<text x="48.10" y="741.90" font-size="10.5" text-anchor="end" fill="#222222" font-weight="normal" textLength="7.20" lengthAdjust="spacingAndGlyphs">2</text>
<line x1="52.40" y1="787.90" x2="56.40" y2="787.90" stroke="#9a9a9a" stroke-width="0.9"/>
<text x="48.10" y="791.60" font-size="10.5" text-anchor="end" fill="#222222" font-weight="normal" textLength="7.20" lengthAdjust="spacingAndGlyphs">0</text>
<line x1="123.60" y1="791.60" x2="123.60" y2="795.60" stroke="#a0a0a0" stroke-width="0.9"/>
<line x1="236.40" y1="791.60" x2="236.40" y2="795.60" stroke="#a0a0a0" stroke-width="0.9"/>
<rect x="122.05" y="610.10" width="3.70" height="165.50" fill="#d0666b"/>
<rect x="116.00" y="710.20" width="15.80" height="45.40" fill="#d0666b"/>
<circle cx="123.90" cy="719.80" r="5.0" fill="#e9a0a3" stroke="#2b2b2b" stroke-width="0.7"/>
<rect x="234.35" y="727.20" width="3.70" height="56.00" fill="#3c1e5e"/>
<rect x="228.00" y="761.70" width="16.10" height="15.20" fill="#3c1e5e"/>
<circle cx="236.20" cy="765.90" r="5.0" fill="#6c4f91" stroke="#2b2b2b" stroke-width="0.7"/>
<text x="61.60" y="787.90" font-size="11.7" text-anchor="start" fill="#000000" font-weight="normal" textLength="83.80" lengthAdjust="spacingAndGlyphs">NG &gt; G = 100%</text>
<text x="92.10" y="809.50" font-size="10.6" text-anchor="start" fill="#000000" font-weight="normal" textLength="75.10" lengthAdjust="spacingAndGlyphs">Non-gelatinous</text>
<text x="212.90" y="809.50" font-size="10.6" text-anchor="start" fill="#000000" font-weight="normal" textLength="52.60" lengthAdjust="spacingAndGlyphs">Gelatinous</text>
<g transform="translate(11.90,795.40) rotate(-90)">
<text x="0.00" y="0.00" font-size="12.2" fill="#000000" textLength="144.70" lengthAdjust="spacingAndGlyphs">Productivity (g per 250 m</text>
<text x="145.80" y="-5.60" font-size="9.0" fill="#000000" textLength="4.20" lengthAdjust="spacingAndGlyphs">2</text>
<text x="154.20" y="0.00" font-size="12.2" fill="#000000" textLength="46.30" lengthAdjust="spacingAndGlyphs">per day)</text>
</g>
<text x="415.60" y="597.90" font-size="18" font-weight="bold" fill="#000" stroke="#000" stroke-width="0.65" textLength="6.20" lengthAdjust="spacingAndGlyphs">f</text>
<line x1="430.10" y1="602.20" x2="430.10" y2="792.50" stroke="#a8a8a8" stroke-width="1.2"/>
<line x1="429.50" y1="792.30" x2="676.50" y2="792.30" stroke="#a8a8a8" stroke-width="1.4"/>
<line x1="426.20" y1="620.30" x2="430.10" y2="620.30" stroke="#8a8a8a" stroke-width="0.9"/>
<text x="421.90" y="624.00" font-size="10.5" text-anchor="end" fill="#222222" font-weight="normal" textLength="21.40" lengthAdjust="spacingAndGlyphs">10.0</text>
<line x1="426.20" y1="682.10" x2="430.10" y2="682.10" stroke="#8a8a8a" stroke-width="0.9"/>
<text x="421.90" y="685.80" font-size="10.5" text-anchor="end" fill="#222222" font-weight="normal" textLength="14.30" lengthAdjust="spacingAndGlyphs">1.0</text>
<line x1="426.20" y1="743.60" x2="430.10" y2="743.60" stroke="#8a8a8a" stroke-width="0.9"/>
<text x="421.90" y="747.30" font-size="10.5" text-anchor="end" fill="#222222" font-weight="normal" textLength="13.30" lengthAdjust="spacingAndGlyphs">0.1</text>
<line x1="452.50" y1="792.00" x2="452.50" y2="796.20" stroke="#505050" stroke-width="0.9"/>
<line x1="528.70" y1="792.00" x2="528.70" y2="796.20" stroke="#505050" stroke-width="0.9"/>
<line x1="598.30" y1="792.00" x2="598.30" y2="796.20" stroke="#505050" stroke-width="0.9"/>
<line x1="674.60" y1="792.00" x2="674.60" y2="796.20" stroke="#505050" stroke-width="0.9"/>
<text x="452.85" y="808.50" font-size="10.5" text-anchor="middle" fill="#222222" font-weight="normal" textLength="6.74" lengthAdjust="spacingAndGlyphs">3</text>
<text x="527.80" y="808.50" font-size="10.5" text-anchor="middle" fill="#222222" font-weight="normal" textLength="11.44" lengthAdjust="spacingAndGlyphs">10</text>
<text x="599.00" y="808.50" font-size="10.5" text-anchor="middle" fill="#222222" font-weight="normal" textLength="13.64" lengthAdjust="spacingAndGlyphs">30</text>
<text x="674.25" y="808.50" font-size="10.5" text-anchor="middle" fill="#222222" font-weight="normal" textLength="17.94" lengthAdjust="spacingAndGlyphs">100</text>
<text x="552.10" y="827.60" font-size="12.3" text-anchor="middle" fill="#000000" font-weight="normal" textLength="53.00" lengthAdjust="spacingAndGlyphs">Size (cm)</text>
<path d="M441.00,672.50 L443.85,672.69 L446.69,672.89 L449.54,673.10 L452.38,673.30 L455.23,673.51 L458.07,673.72 L460.92,673.94 L463.76,674.16 L466.61,674.38 L469.46,674.61 L472.30,674.85 L475.15,675.09 L477.99,675.33 L480.84,675.59 L483.68,675.84 L486.53,676.11 L489.37,676.39 L492.22,676.67 L495.07,676.96 L497.91,677.26 L500.76,677.57 L503.60,677.89 L506.45,678.22 L509.29,678.56 L512.14,678.92 L514.98,679.28 L517.83,679.67 L520.68,680.06 L523.52,680.47 L526.37,680.90 L529.21,681.34 L532.06,681.80 L534.90,682.28 L537.75,682.78 L540.59,683.31 L543.44,683.85 L546.29,684.41 L549.13,685.00 L551.98,685.62 L554.82,686.26 L557.67,686.93 L560.51,687.63 L563.36,688.36 L566.21,689.12 L569.05,689.92 L571.90,690.75 L574.74,691.63 L577.59,692.54 L580.43,693.49 L583.28,694.48 L586.12,695.52 L588.97,696.61 L591.82,697.75 L594.66,698.94 L597.51,700.19 L600.35,701.49 L603.20,702.86 L606.04,704.29 L608.89,705.78 L611.73,707.35 L614.58,708.98 L617.43,710.70 L620.27,712.49 L623.12,714.37 L625.96,716.34 L628.81,718.40 L631.65,720.55 L634.50,722.81 L637.34,725.17 L640.19,727.65 L643.04,730.23 L645.88,732.95 L648.73,735.78 L651.57,738.76 L654.42,741.87 L657.26,745.12 L660.11,748.53 L662.95,752.10 L665.80,755.84 L665.80,783.34 L662.95,779.20 L660.11,775.24 L657.26,771.44 L654.42,767.81 L651.57,764.32 L648.73,760.99 L645.88,757.79 L643.04,754.73 L640.19,751.79 L637.34,748.98 L634.50,746.29 L631.65,743.71 L628.81,741.24 L625.96,738.87 L623.12,736.60 L620.27,734.43 L617.43,732.34 L614.58,730.35 L611.73,728.43 L608.89,726.60 L606.04,724.85 L603.20,723.16 L600.35,721.55 L597.51,720.01 L594.66,718.53 L591.82,717.11 L588.97,715.76 L586.12,714.46 L583.28,713.21 L580.43,712.02 L577.59,710.87 L574.74,709.78 L571.90,708.73 L569.05,707.73 L566.21,706.77 L563.36,705.85 L560.51,704.97 L557.67,704.13 L554.82,703.33 L551.98,702.56 L549.13,701.82 L546.29,701.12 L543.44,700.44 L540.59,699.80 L537.75,699.19 L534.90,698.60 L532.06,698.04 L529.21,697.51 L526.37,697.00 L523.52,696.51 L520.68,696.05 L517.83,695.61 L514.98,695.19 L512.14,694.80 L509.29,694.42 L506.45,694.06 L503.60,693.72 L500.76,693.40 L497.91,693.09 L495.07,692.81 L492.22,692.53 L489.37,692.28 L486.53,692.04 L483.68,691.81 L480.84,691.60 L477.99,691.40 L475.15,691.21 L472.30,691.04 L469.46,690.88 L466.61,690.73 L463.76,690.60 L460.92,690.47 L458.07,690.36 L455.23,690.26 L452.38,690.16 L449.54,690.08 L446.69,690.01 L443.85,689.95 L441.00,689.90 Z" fill="#d66b6e"/>
<path d="M441.00,700.49 L443.58,700.36 L446.16,700.23 L448.74,700.08 L451.31,699.93 L453.89,699.77 L456.47,699.60 L459.05,699.42 L461.63,699.23 L464.21,699.02 L466.78,698.81 L469.36,698.59 L471.94,698.35 L474.52,698.10 L477.10,697.84 L479.68,697.57 L482.26,697.28 L484.83,696.98 L487.41,696.67 L489.99,696.34 L492.57,695.99 L495.15,695.63 L497.73,695.25 L500.31,694.86 L502.88,694.45 L505.46,694.02 L508.04,693.57 L510.62,693.11 L513.20,692.62 L515.78,692.11 L518.35,691.58 L520.93,691.03 L523.51,690.45 L526.09,689.85 L528.67,689.23 L531.25,688.58 L533.83,687.90 L536.40,687.20 L538.98,686.46 L541.56,685.70 L544.14,684.90 L546.72,684.08 L549.30,683.21 L551.87,682.32 L554.45,681.38 L557.03,680.41 L559.61,679.40 L562.19,678.35 L564.77,677.26 L567.35,676.12 L569.92,674.94 L572.50,673.71 L575.08,672.43 L577.66,671.10 L580.24,669.72 L582.82,668.28 L585.39,666.78 L587.97,665.22 L590.55,663.60 L593.13,661.92 L595.71,660.17 L598.29,658.35 L600.87,656.45 L603.44,654.48 L606.02,652.43 L608.60,650.30 L611.18,648.08 L613.76,645.78 L616.34,643.38 L618.92,640.89 L621.49,638.29 L624.07,635.60 L626.65,632.79 L629.23,629.87 L631.81,626.83 L634.39,623.68 L636.96,620.39 L639.54,616.97 L642.12,613.42 L644.70,609.72 L644.70,638.42 L642.12,641.74 L639.54,644.92 L636.96,647.97 L634.39,650.90 L631.81,653.70 L629.23,656.39 L626.65,658.97 L624.07,661.44 L621.49,663.81 L618.92,666.09 L616.34,668.27 L613.76,670.36 L611.18,672.37 L608.60,674.29 L606.02,676.14 L603.44,677.91 L600.87,679.60 L598.29,681.23 L595.71,682.80 L593.13,684.29 L590.55,685.73 L587.97,687.11 L585.39,688.44 L582.82,689.71 L580.24,690.93 L577.66,692.10 L575.08,693.23 L572.50,694.31 L569.92,695.35 L567.35,696.35 L564.77,697.30 L562.19,698.23 L559.61,699.11 L557.03,699.96 L554.45,700.78 L551.87,701.57 L549.30,702.33 L546.72,703.06 L544.14,703.76 L541.56,704.44 L538.98,705.09 L536.40,705.72 L533.83,706.33 L531.25,706.92 L528.67,707.48 L526.09,708.03 L523.51,708.56 L520.93,709.07 L518.35,709.57 L515.78,710.05 L513.20,710.51 L510.62,710.96 L508.04,711.40 L505.46,711.82 L502.88,712.23 L500.31,712.64 L497.73,713.03 L495.15,713.41 L492.57,713.78 L489.99,714.14 L487.41,714.49 L484.83,714.84 L482.26,715.17 L479.68,715.50 L477.10,715.83 L474.52,716.14 L471.94,716.46 L469.36,716.76 L466.78,717.07 L464.21,717.36 L461.63,717.66 L459.05,717.95 L456.47,718.23 L453.89,718.51 L451.31,718.79 L448.74,719.07 L446.16,719.34 L443.58,719.62 L441.00,719.89 Z" fill="rgba(59,30,91,0.68)"/>
<path d="M441.00,680.70 L443.85,680.82 L446.69,680.95 L449.54,681.09 L452.38,681.24 L455.23,681.39 L458.07,681.54 L460.92,681.70 L463.76,681.87 L466.61,682.05 L469.46,682.23 L472.30,682.43 L475.15,682.63 L477.99,682.84 L480.84,683.06 L483.68,683.29 L486.53,683.53 L489.37,683.78 L492.22,684.04 L495.07,684.31 L497.91,684.59 L500.76,684.89 L503.60,685.20 L506.45,685.52 L509.29,685.86 L512.14,686.21 L514.98,686.58 L517.83,686.97 L520.68,687.37 L523.52,687.79 L526.37,688.23 L529.21,688.69 L532.06,689.17 L534.90,689.67 L537.75,690.20 L540.59,690.75 L543.44,691.32 L546.29,691.92 L549.13,692.54 L551.98,693.20 L554.82,693.88 L557.67,694.60 L560.51,695.34 L563.36,696.12 L566.21,696.94 L569.05,697.79 L571.90,698.69 L574.74,699.62 L577.59,700.59 L580.43,701.61 L583.28,702.68 L586.12,703.79 L588.97,704.96 L591.82,706.18 L594.66,707.45 L597.51,708.78 L600.35,710.17 L603.20,711.63 L606.04,713.15 L608.89,714.74 L611.73,716.41 L614.58,718.15 L617.43,719.97 L620.27,721.87 L623.12,723.86 L625.96,725.94 L628.81,728.12 L631.65,730.39 L634.50,732.77 L637.34,735.26 L640.19,737.86 L643.04,740.58 L645.88,743.43 L648.73,746.40 L651.57,749.51 L654.42,752.77 L657.26,756.17 L660.11,759.73 L662.95,763.45 L665.80,767.34" fill="none" stroke="#000" stroke-width="1.1"/>
<path d="M441.00,709.29 L443.58,709.11 L446.16,708.93 L448.74,708.74 L451.31,708.54 L453.89,708.33 L456.47,708.12 L459.05,707.90 L461.63,707.68 L464.21,707.44 L466.78,707.20 L469.36,706.95 L471.94,706.69 L474.52,706.42 L477.10,706.14 L479.68,705.84 L482.26,705.54 L484.83,705.23 L487.41,704.90 L489.99,704.57 L492.57,704.22 L495.15,703.85 L497.73,703.47 L500.31,703.08 L502.88,702.68 L505.46,702.25 L508.04,701.81 L510.62,701.36 L513.20,700.89 L515.78,700.39 L518.35,699.88 L520.93,699.35 L523.51,698.80 L526.09,698.23 L528.67,697.63 L531.25,697.01 L533.83,696.37 L536.40,695.70 L538.98,695.00 L541.56,694.28 L544.14,693.53 L546.72,692.74 L549.30,691.93 L551.87,691.08 L554.45,690.20 L557.03,689.29 L559.61,688.33 L562.19,687.34 L564.77,686.31 L567.35,685.24 L569.92,684.13 L572.50,682.97 L575.08,681.76 L577.66,680.50 L580.24,679.20 L582.82,677.84 L585.39,676.42 L587.97,674.95 L590.55,673.42 L593.13,671.82 L595.71,670.16 L598.29,668.43 L600.87,666.64 L603.44,664.77 L606.02,662.82 L608.60,660.79 L611.18,658.68 L613.76,656.48 L616.34,654.20 L618.92,651.82 L621.49,649.34 L624.07,646.76 L626.65,644.07 L629.23,641.28 L631.81,638.37 L634.39,635.34 L636.96,632.19 L639.54,628.90 L642.12,625.48 L644.70,621.92" fill="none" stroke="#000" stroke-width="1.1"/>
<g transform="translate(369.70,796.90) rotate(-90)">
<text x="0.00" y="0.00" font-size="12.2" fill="#000000" textLength="144.70" lengthAdjust="spacingAndGlyphs">Productivity (g per 250 m</text>
<text x="145.80" y="-5.60" font-size="9.0" fill="#000000" textLength="4.20" lengthAdjust="spacingAndGlyphs">2</text>
<text x="154.20" y="0.00" font-size="12.2" fill="#000000" textLength="46.30" lengthAdjust="spacingAndGlyphs">per day)</text>
</g>
</svg></body></html>
